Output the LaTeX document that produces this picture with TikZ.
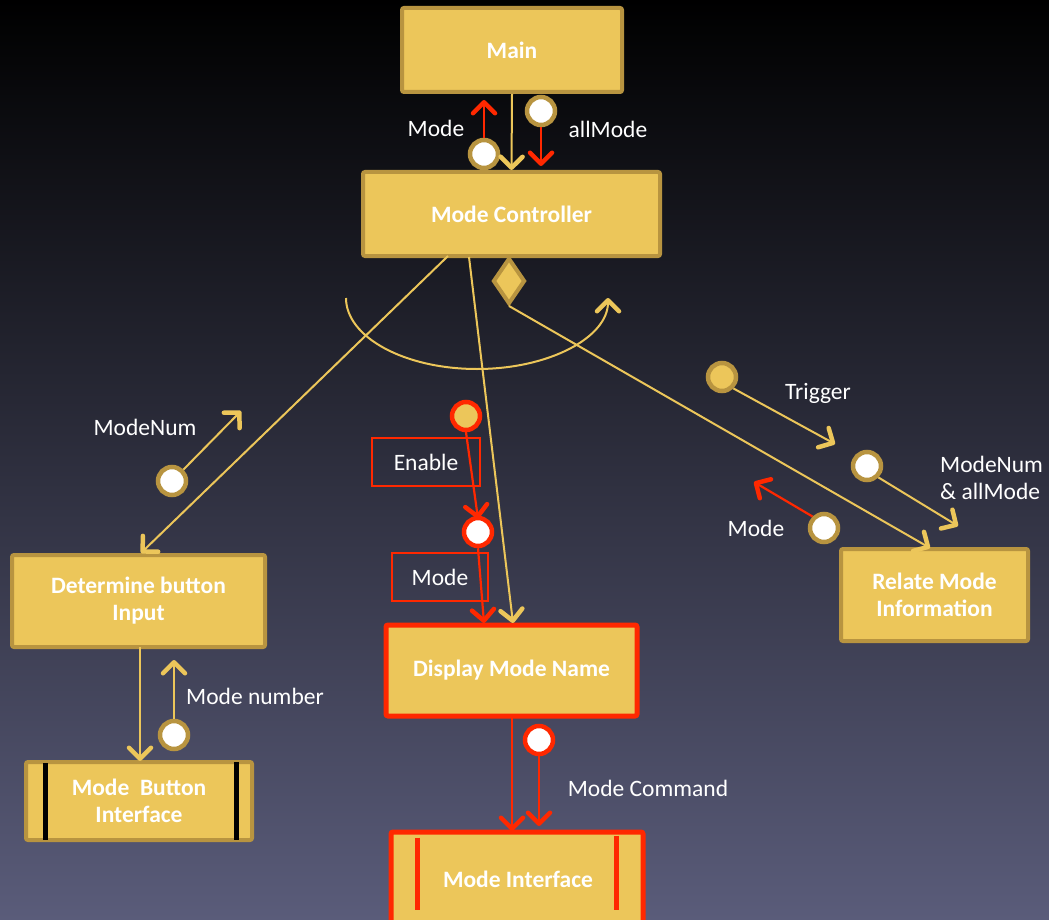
\documentclass[tikz,border=0pt]{standalone}
\usepackage{fontspec}
\setmainfont{Carlito}
\usetikzlibrary{arrows.meta,shapes.geometric}
\definecolor{gold}{RGB}{236,198,90}
\definecolor{goldb}{RGB}{184,148,64}
\definecolor{redc}{RGB}{255,40,0}
\definecolor{bgtop}{RGB}{0,0,0}
\definecolor{bgmid}{RGB}{40,38,70}
\definecolor{bgbot}{RGB}{90,92,122}
\begin{document}
\begin{tikzpicture}[x=1pt,y=-1pt,
  box/.style={draw=goldb, line width=4pt, fill=gold, text=white, rounded corners=2pt,
    font=\fontsize{23.5}{27}\selectfont\bfseries, align=center, inner sep=0pt},
  redbox/.style={box, draw=redc, line width=5pt},
  lbl/.style={text=white, font=\fontsize{23.5}{27}\selectfont, inner sep=0pt},
  port/.style={circle, draw=goldb, line width=4.5pt, fill=white, minimum size=28pt, inner sep=0pt},
  gport/.style={port, fill=gold},
  rport/.style={port, draw=redc},
  rgport/.style={port, draw=redc, fill=gold},
  yline/.style={draw=gold, line width=2pt},
  yarrow/.style={yline, -{Straight Barb[length=11pt,width=22pt,line width=4.5pt,round]}},
  rarrow/.style={draw=redc, line width=2.2pt, -{Straight Barb[length=11pt,width=22pt,line width=4.5pt,round]}},
  lblbox/.style={draw=redc, line width=1.5pt, text=white, font=\fontsize{23.5}{27}\selectfont, inner sep=0pt}
]
\useasboundingbox (0,0) rectangle (1049,920);
\clip (0,0) rectangle (1049,920);
\shade[top color=bgtop, middle color=bgmid, bottom color=bgbot] (0,0) rectangle (1049,920);

% boxes
\node[box, minimum width=220pt, minimum height=84pt] (main) at (512,50) {Main};
\node[box, minimum width=297pt, minimum height=84pt] (mc) at (511.5,214) {Mode Controller};
\node[box, minimum width=253pt, minimum height=92pt] (dbi) at (138.5,601) {Determine button\\Input};
\node[box, minimum width=226pt, minimum height=78pt] (mbi) at (139,801) {Mode\ \ Button\\Interface};
\node[redbox, minimum width=251pt, minimum height=91pt] (dmn) at (511.5,670.5) {Display Mode Name};
\node[redbox, minimum width=252pt, minimum height=96pt] (mi) at (517,880) {};
\node[text=white, font=\fontsize{23.5}{27}\selectfont\bfseries] (mitext) at (518,879) {Mode Interface};
\node[box, minimum width=187pt, minimum height=92pt] (rmi) at (934.5,595) {Relate Mode\\Information};

% interface bars
\draw[black, line width=5pt] ([xshift=21pt,yshift=-3pt]mbi.north west) -- ([xshift=21pt,yshift=2pt]mbi.south west);
\draw[black, line width=5pt] ([xshift=-18pt,yshift=-2pt]mbi.north east) -- ([xshift=-18pt,yshift=2pt]mbi.south east);
\draw[redc, line width=5pt] ([xshift=29pt,yshift=-8pt]mi.north west) -- ([xshift=29pt,yshift=-80pt]mi.north west);
\draw[redc, line width=5pt] ([xshift=-29pt,yshift=-6pt]mi.north east) -- ([xshift=-29pt,yshift=-80pt]mi.north east);

% diamond
\node[diamond, draw=goldb, fill=gold, line width=4pt, minimum width=32pt, minimum height=46pt, inner sep=0pt] (dia) at (509,281) {};

% top ports
\node[port] (pmode) at (484,154) {};
\node[port] (pall) at (541,111) {};
\coordinate (pmodeE) at (484,100);
\coordinate (pallE) at (541,166);
\draw[yarrow] (main.south) -- (mc.north);
\draw[rarrow] (pmode.north) -- (pmodeE);
\draw[rarrow] (pall.south) -- (pallE);
\node[lbl] (lmode) at (436,128) {Mode};
\node[lbl] (lall) at (608,129) {allMode};

% arc
\coordinate (arcS) at (346,298);
\draw[yarrow] (arcS) arc[start angle=180, end angle=0, x radius=131, y radius=71];

% lines from controller
\coordinate (mcA) at (448,256);
\coordinate (mcB) at (469,257);
\coordinate (dbiT) at (141,553);
\coordinate (dmnT) at (513,623);
\coordinate (rmiT) at (930,548);
\draw[yarrow] (mcA) -- (dbiT);
\draw[yarrow] (mcB) -- (dmnT);
\draw[yarrow] (dia.south) -- (rmiT);

% left ports
\node[port] (pnum) at (172,481) {};
\coordinate (pnumE) at (241,411);
\draw[yarrow] (pnum.north east) -- (pnumE);
\node[lbl] (lnum) at (145,427) {ModeNum};

\coordinate (dbiB) at (140,647);
\coordinate (mbiT) at (140,761);
\draw[yarrow] (dbiB) -- (mbiT);
\node[port] (pmn) at (174,735) {};
\coordinate (pmnE) at (174,660);
\draw[yarrow] (pmn.north) -- (pmnE);
\node[lbl] (lmn) at (255,696) {Mode number};

% center ports
\node[rgport] (pen) at (466,416) {};
\node[rport] (pcm) at (478,532) {};
\coordinate (dmnT2) at (484,623);
\draw[rarrow, shorten <=-2pt] (pen.south) -- ([yshift=-3pt]pcm.north);
\draw[rarrow] (pcm.south) -- (dmnT2);
\node[lblbox, minimum width=108pt, minimum height=48pt] (enbox) at (426,462) {Enable};
\node[lblbox, minimum width=96pt, minimum height=48pt] (mobox) at (440,577) {Mode};

% bottom
\coordinate (dmnB) at (512,718);
\coordinate (miT) at (512,831);
\draw[rarrow] (dmnB) -- (miT);
\node[rport] (pmc) at (539,740) {};
\coordinate (pmcE) at (539,826);
\draw[rarrow] (pmc.south) -- (pmcE);
\node[lbl] (lmc) at (648,788) {Mode Command};

% right ports
\node[gport] (ptr) at (722,377) {};
\coordinate (ptrE) at (835,444);
\draw[yarrow] (ptr.south east) -- (ptrE);
\node[lbl] (ltr) at (818,393) {Trigger};

\node[port] (pna) at (867,466) {};
\coordinate (pnaE) at (958,526);
\draw[yarrow] (pna.south east) -- (pnaE);
\node[lbl, align=left, anchor=west] (lna) at (940,478) {ModeNum\\\& allMode};

\node[port] (prm) at (824,528) {};
\coordinate (prmE) at (754,482);
\draw[rarrow] (prm.north west) -- (prmE);
\node[lbl] (lrm) at (756,528) {Mode};
\end{tikzpicture}
\end{document}
